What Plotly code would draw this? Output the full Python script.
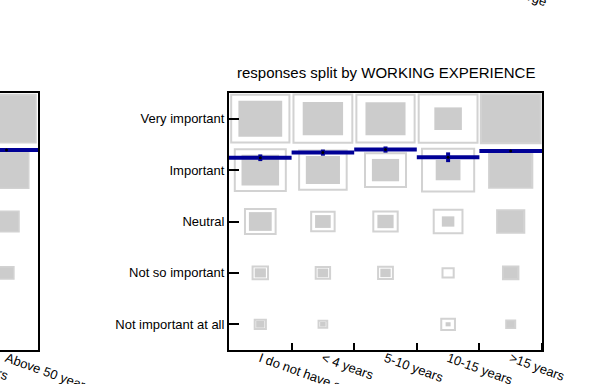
import numpy as np
import plotly.graph_objects as go

# answer scale, bottom to top (y = 1..5)
levels = ["Not important at all", "Not so important", "Neutral", "Important", "Very important"]
experience = ["I do not have a professional experience", "< 4 years", "5-10 years", "10-15 years", ">15 years"]

# share of answers (%) per experience group, ordered like `levels`
# lower / upper bound -> filled square / outlined square
exp_lower = [
    [1.1, 2.0, 8.3, 22.5, 30.6],
    [0.5, 1.8, 3.9, 18.6, 26.0],
    [0.0, 1.7, 4.2, 11.8, 25.6],
    [0.4, 0.0, 2.5, 9.8, 12.1],
    [1.0, 3.2, 10.8, 28.1, 54.6],
]
exp_upper = [
    [2.0, 3.8, 15.0, 41.5, 54.1],
    [1.2, 3.3, 8.8, 36.1, 55.2],
    [0.0, 3.5, 9.5, 26.8, 54.1],
    [3.0, 2.0, 13.2, 43.4, 55.2],
    [1.3, 3.8, 11.8, 29.8, 57.0],
]
exp_mean = [4.24, 4.34, 4.40, 4.25, 4.37]
exp_err = [0.065, 0.06, 0.06, 0.095, 0.03]

# neighbouring panel (split by age), only its last column is in view
age_groups = ["Above 50 years"]
age_lower = [[0.0, 2.7, 8.65, 29.3, 51.8]]
age_upper = [[0.0, 3.2, 9.5, 30.6, 54.0]]
age_mean = [4.39]
age_err = [0.03]

FONT = "Arial, Liberation Sans, sans-serif"
BLUE = "#000096"
K = np.sqrt(1.6)  # square side = K * sqrt(share)

W, H = 589, 384
fig = go.Figure()


def add_panel(lower, upper, mean, err, xa, ya):
    shapes = []
    for i in range(len(lower)):
        for j in range(5):
            y = j + 1
            s_hi = K * np.sqrt(upper[i][j] / 100)
            s_lo = K * np.sqrt(lower[i][j] / 100)
            if s_hi > 0:
                shapes.append(dict(type="rect", xref=xa, yref=ya, layer="below",
                                   x0=i - s_hi / 2, x1=i + s_hi / 2, y0=y - s_hi / 2, y1=y + s_hi / 2,
                                   line=dict(color="#d2d2d2", width=2), fillcolor="rgba(0,0,0,0)"))
            if s_lo > 0:
                shapes.append(dict(type="rect", xref=xa, yref=ya, layer="below",
                                   x0=i - s_lo / 2, x1=i + s_lo / 2, y0=y - s_lo / 2, y1=y + s_lo / 2,
                                   line=dict(width=0), fillcolor="#cccccc"))
    # mean line across each column
    xs, ys = [], []
    for i, m in enumerate(mean):
        xs += [i - 0.5, i + 0.5, None]
        ys += [m, m, None]
    fig.add_trace(go.Scatter(x=xs, y=ys, mode="lines", line=dict(color=BLUE, width=4),
                             xaxis=xa, yaxis=ya, hoverinfo="skip"))
    fig.add_trace(go.Scatter(x=list(range(len(mean))), y=mean, mode="markers",
                             marker=dict(color="black", size=3),
                             error_y=dict(type="data", array=err, color=BLUE, thickness=4, width=0),
                             xaxis=xa, yaxis=ya))
    return shapes


shapes = add_panel(exp_lower, exp_upper, exp_mean, exp_err, "x", "y")
shapes += add_panel(age_lower, age_upper, age_mean, age_err, "x2", "y2")

x0, x1 = 229 / W, 542 / W
y0, y1 = 1 - 350 / H, 1 - 93 / H
n = len(experience)

fig.update_layout(
    width=W, height=H,
    margin=dict(l=0, r=0, t=0, b=0),
    paper_bgcolor="white", plot_bgcolor="white",
    showlegend=False,
    font=dict(family=FONT, size=13, color="black"),
    shapes=shapes,
    xaxis=dict(domain=[x0, x1], range=[-0.5, n - 0.5], tickvals=list(range(n)), ticktext=experience,
               tickangle=20, ticks="", ticklabelstandoff=-6,
               showline=True, mirror=True, linecolor="black", linewidth=2,
               showgrid=False, zeroline=False, automargin=False,
               minor=dict(tickvals=[i + 0.5 for i in range(n)], ticks="inside", ticklen=7,
                          tickwidth=2, tickcolor="black", showgrid=False)),
    yaxis=dict(domain=[y0, y1], range=[0.5, 5.5], tickvals=[1, 2, 3, 4, 5], ticktext=levels,
               ticks="inside", ticklen=10, tickwidth=2, tickcolor="black",
               showline=True, mirror=True, linecolor="black", linewidth=2,
               showgrid=False, zeroline=False, automargin=False),
    xaxis2=dict(domain=[0, 38 / W], range=[-6.5 / 63, 0.5], tickvals=[0], ticktext=age_groups,
                tickangle=20, ticks="", ticklabelstandoff=-6,
                showline=True, mirror=True, linecolor="black", linewidth=2,
                showgrid=False, zeroline=False, anchor="y2", automargin=False),
    yaxis2=dict(domain=[y0, y1], range=[0.5, 5.5], side="right", showticklabels=False, ticks="",
                showline=True, linecolor="black", linewidth=2, showgrid=False, zeroline=False,
                anchor="x2", automargin=False),
    annotations=[
        dict(text="responses split by WORKING EXPERIENCE", xref="paper", yref="paper",
             x=(x0 + x1) / 2, y=1 - 72 / H, yanchor="middle", showarrow=False, font=dict(size=15)),
        dict(text="40-50 years", xref="paper", yref="paper", x=13 / W, y=-2 / H,
             xanchor="right", yanchor="bottom", textangle=20, showarrow=False),
        dict(text="Large", xref="paper", yref="paper", x=551 / W, y=1 - 12 / H,
             xanchor="right", yanchor="bottom", textangle=20, showarrow=False),
    ],
)

# drop the default page margin so the figure sits at the window's corner
fig.write_html("out.html", config={"displayModeBar": False},
               post_script="document.body.style.margin='0px';")
